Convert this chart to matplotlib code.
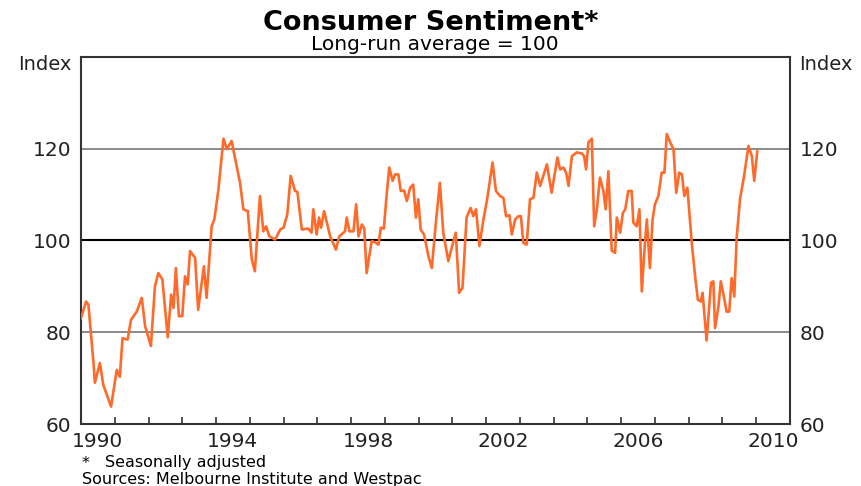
import matplotlib
matplotlib.use('Agg')
import matplotlib.pyplot as plt

# Monthly-ish turning points (decimal year, index)
dates = [1990.00, 1990.15, 1990.22, 1990.37, 1990.41, 1990.56, 1990.66, 1990.89,
         1991.06, 1991.15, 1991.23, 1991.38, 1991.48, 1991.65, 1991.80, 1991.90,
         1992.07, 1992.19, 1992.29, 1992.41, 1992.57, 1992.67, 1992.74, 1992.81, 1992.90,
         1993.00, 1993.08, 1993.16, 1993.23, 1993.38, 1993.47, 1993.64, 1993.72, 1993.87, 1993.95,
         1994.07, 1994.22, 1994.32, 1994.46, 1994.71, 1994.81, 1994.94,
         1995.06, 1995.15, 1995.30, 1995.40, 1995.48, 1995.58, 1995.75, 1995.90,
         1996.00, 1996.11, 1996.21, 1996.34, 1996.41, 1996.54, 1996.73, 1996.83, 1996.88, 1996.98,
         1997.05, 1997.11, 1997.20, 1997.38, 1997.55, 1997.65, 1997.82, 1997.87, 1997.95,
         1998.07, 1998.15, 1998.22, 1998.32, 1998.39, 1998.46, 1998.61, 1998.71, 1998.81, 1998.88, 1998.97,
         1999.05, 1999.13, 1999.23, 1999.30, 1999.40, 1999.47, 1999.57, 1999.65, 1999.75, 1999.84, 1999.92, 1999.99,
         2000.06, 2000.16, 2000.29, 2000.39, 2000.52, 2000.63, 2000.73, 2000.88, 2000.98,
         2001.10, 2001.20, 2001.30, 2001.42, 2001.54, 2001.62, 2001.70, 2001.80, 2001.92,
         2002.03, 2002.19, 2002.29, 2002.41, 2002.51, 2002.59, 2002.69, 2002.76, 2002.86, 2002.96,
         2003.03, 2003.10, 2003.20, 2003.30, 2003.40, 2003.50, 2003.60, 2003.80, 2003.94,
         2004.11, 2004.19, 2004.29, 2004.37, 2004.44, 2004.54, 2004.68, 2004.83, 2004.90, 2004.96,
         2005.03, 2005.13, 2005.20, 2005.28, 2005.37, 2005.47, 2005.54, 2005.62, 2005.72, 2005.82, 2005.87, 2005.97,
         2006.05, 2006.12, 2006.21, 2006.31, 2006.36, 2006.46, 2006.54, 2006.61, 2006.71, 2006.76, 2006.85, 2006.93,
         2007.00, 2007.10, 2007.20, 2007.28, 2007.35, 2007.45, 2007.55, 2007.63, 2007.72, 2007.80, 2007.87, 2007.96,
         2008.09, 2008.19, 2008.27, 2008.36, 2008.41, 2008.53, 2008.66, 2008.73, 2008.78, 2008.88, 2008.95,
         2009.04, 2009.12, 2009.20, 2009.27, 2009.35, 2009.42, 2009.52, 2009.64, 2009.77, 2009.87, 2009.94, 2010.03]

sentiment = [83.1, 86.7, 86.0, 73.3, 69.0, 73.3, 68.5, 63.8,
             71.8, 70.3, 78.7, 78.4, 82.7, 84.5, 87.5, 81.3,
             77.0, 90.0, 92.9, 91.5, 78.9, 88.2, 85.3, 94.0, 83.5,
             83.5, 92.2, 90.4, 97.7, 96.2, 84.9, 94.4, 87.5, 103.1, 104.6,
             111.1, 122.2, 119.9, 121.7, 112.6, 106.8, 106.4,
             95.8, 93.3, 109.7, 102.0, 103.1, 100.9, 100.2, 102.4,
             102.8, 105.7, 114.1, 110.8, 110.6, 102.4, 102.6, 101.7, 106.8, 101.3,
             105.0, 102.8, 106.4, 100.9, 98.0, 100.9, 102.0, 105.0, 102.0,
             102.0, 107.9, 100.9, 103.5, 102.6, 92.9, 99.9, 99.6, 99.1, 102.8, 102.6,
             109.7, 115.9, 113.0, 114.4, 114.4, 110.8, 110.9, 108.6, 111.5, 112.2, 105.0, 109.0,
             102.4, 101.3, 96.6, 94.0, 104.6, 112.6, 101.7, 95.5, 98.4,
             101.7, 88.6, 89.7, 105.0, 107.1, 105.3, 106.8, 98.8, 104.6,
             109.0, 117.0, 110.8, 109.7, 109.3, 105.3, 105.5, 101.3, 104.6, 105.3,
             105.3, 99.5, 99.1, 109.0, 109.3, 114.8, 111.9, 116.6, 110.4,
             118.1, 115.5, 115.9, 114.8, 111.9, 118.4, 119.2, 119.0, 118.4, 115.5,
             121.4, 122.2, 103.1, 106.8, 113.7, 110.9, 106.8, 115.1, 97.8, 97.3, 105.0, 101.7,
             106.0, 106.8, 110.8, 110.8, 103.9, 103.1, 106.8, 88.9, 100.2, 104.6, 94.0, 104.6,
             107.9, 109.7, 114.8, 114.8, 123.2, 121.4, 119.9, 110.4, 114.8, 114.4, 109.7, 111.5,
             99.5, 92.2, 87.1, 86.7, 88.6, 78.2, 90.8, 91.1, 80.9, 85.6, 91.1,
             87.8, 84.5, 84.5, 91.8, 87.8, 100.6, 109.0, 114.1, 120.6, 118.4, 113.0, 119.4]

y_ticks = [60, 80, 100, 120]
year_labels = ['1990', '1994', '1998', '2002', '2006', '2010']

fig = plt.figure(figsize=(8.62, 4.86), dpi=100)
ax = fig.add_axes([81/862, 1 - 424/486, 709/862, 367/486])

# reference lines
for lvl in [80, 120]:
    ax.axhline(lvl, color='#777777', lw=1.2, zorder=1)
ax.axhline(100, color='black', lw=1.5, zorder=1)

ax.plot(dates, sentiment, color='#ff6a2a', lw=1.9, zorder=3)

ax.set_xlim(1990, 2011)
ax.set_ylim(60, 140)

ax.set_yticks(y_ticks)
ax.tick_params(axis='y', length=0, pad=7, labelsize=14.5, labelleft=True, labelright=True,
               colors='#222222')

# year ticks inside, labels centred in the year
ax.set_xticks(range(1991, 2011), minor=True)
ax.set_xticks([int(y) + 0.5 for y in year_labels])
ax.set_xticklabels(year_labels)
ax.tick_params(axis='x', which='major', length=0, pad=6, labelsize=14.5, colors='#222222')
ax.tick_params(axis='x', which='minor', direction='in', length=5, width=1.2, color='#333333')

for s in ax.spines.values():
    s.set_color('#333333')
    s.set_linewidth(1.5)

# unit labels
fig.text(72/862, 1 - 64/486, 'Index', ha='right', va='center', fontsize=14, color='#222222')
fig.text(799/862, 1 - 64/486, 'Index', ha='left', va='center', fontsize=14, color='#222222')

fig.text(0.5, 1 - 23/486, 'Consumer Sentiment*', ha='center', va='center',
         fontsize=19.5, fontweight='bold')
fig.text(0.505, 1 - 44/486, 'Long-run average = 100', ha='center', va='center', fontsize=14.5)

fig.text(82/862, 1 - 463/486, '*', ha='left', va='center', fontsize=11.5)
fig.text(105/862, 1 - 462/486, 'Seasonally adjusted', ha='left', va='center', fontsize=11.5)
fig.text(82/862, 1 - 479/486, 'Sources: Melbourne Institute and Westpac', ha='left',
         va='center', fontsize=11.5)

fig.savefig('out.png', dpi=100)
